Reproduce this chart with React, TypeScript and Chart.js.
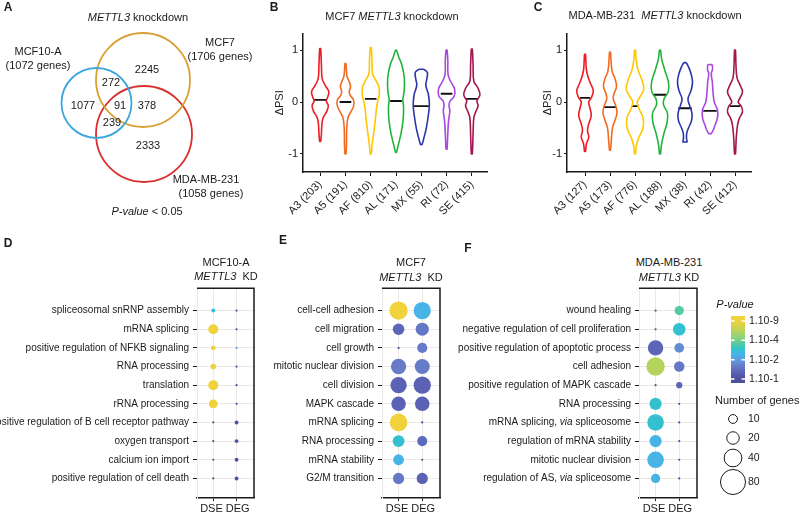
import React, { useEffect, useRef } from 'react';
import { Chart, registerables } from 'chart.js';

Chart.register(...registerables);

const FONT = '"Liberation Sans", Arial, Helvetica, sans-serif';
Chart.defaults.font.family = FONT;
Chart.defaults.color = '#1a1a1a';
const INK = '#1a1a1a';
const GRID = '#efe7e3';

// ---------------- A: Venn data ----------------
const vennNames = ['MCF10-A', 'MCF7', 'MDA-MB-231'];
const vennGeneTotals = [1072, 1706, 1058];
const vennRegionCounts = [2245, 272, 1077, 91, 378, 239, 2333];
// layout of the diagram (abstract diagram units)
const vennColors = ['#3ba7dd', '#d9a033', '#d8302f'];
const vennCx = [96.5, 143, 144];
const vennCy = [103, 80, 134];
const vennR = [35, 47, 48];
const vennRegionX = [147, 111, 83, 120, 147, 112, 148];
const vennRegionY = [70, 83, 106, 106, 106, 123, 146];
const vennNameX = [38, 220, 206];
const vennNameX2 = [38, 220, 211];
const vennNameY = [52, 43, 180];

// ---------------- B / C: violin data ----------------
const spliceTypes = ['A3', 'A5', 'AF', 'AL', 'MX', 'RI', 'SE'];
const mcf7Counts = [203, 191, 810, 171, 55, 72, 415];
const mdaCounts = [127, 173, 776, 188, 38, 42, 412];
const psiTicks = [-1, 0, 1];
const mcf7Medians = [0.04, 0.0, 0.06, 0.02, -0.08, 0.16, 0.06];
const mcf7MedianHalf = [0.25, 0.23, 0.23, 0.23, 0.3, 0.23, 0.23];
const mdaMedians = [0.08, -0.1, -0.08, 0.14, -0.12, -0.17, -0.08];
const mdaMedianHalf = [0.2, 0.25, 0.13, 0.27, 0.27, 0.27, 0.21];
// density profiles: [deltaPSI, half-width of the violin]
const mcf7Density: number[][][] = [
  [[-0.76, 0.02], [-0.6, 0.05], [-0.42, 0.07], [-0.3, 0.12], [-0.18, 0.26], [-0.07, 0.32], [0.02, 0.24], [0.1, 0.3], [0.2, 0.34], [0.32, 0.2], [0.45, 0.08], [0.7, 0.05], [1.03, 0.02]],
  [[-1.0, 0.02], [-0.8, 0.04], [-0.5, 0.05], [-0.3, 0.1], [-0.2, 0.2], [-0.08, 0.32], [0.04, 0.32], [0.12, 0.2], [0.2, 0.15], [0.3, 0.2], [0.4, 0.14], [0.5, 0.06], [0.74, 0.02]],
  [[-1.0, 0.02], [-0.8, 0.06], [-0.55, 0.13], [-0.35, 0.18], [-0.15, 0.22], [0.0, 0.27], [0.12, 0.33], [0.28, 0.33], [0.42, 0.2], [0.55, 0.07], [0.8, 0.05], [1.05, 0.02]],
  [[-0.97, 0.02], [-0.85, 0.08], [-0.6, 0.2], [-0.35, 0.28], [-0.1, 0.3], [0.05, 0.27], [0.2, 0.32], [0.45, 0.33], [0.7, 0.24], [0.88, 0.1], [1.0, 0.02]],
  [[-0.82, 0.03], [-0.7, 0.1], [-0.5, 0.2], [-0.25, 0.28], [-0.05, 0.32], [0.15, 0.28], [0.32, 0.18], [0.45, 0.22], [0.57, 0.24], [0.63, 0.1]],
  [[-0.91, 0.02], [-0.6, 0.05], [-0.36, 0.08], [-0.17, 0.13], [-0.07, 0.1], [0.02, 0.14], [0.11, 0.3], [0.25, 0.32], [0.4, 0.16], [0.53, 0.06], [0.8, 0.05], [1.0, 0.02]],
  [[-1.0, 0.02], [-0.6, 0.05], [-0.3, 0.08], [-0.17, 0.17], [-0.07, 0.25], [0.02, 0.2], [0.14, 0.32], [0.27, 0.24], [0.4, 0.08], [0.7, 0.05], [1.02, 0.02]],
];
const mdaDensity: number[][][] = [
  [[-0.95, 0.02], [-0.8, 0.06], [-0.68, 0.15], [-0.55, 0.1], [-0.42, 0.15], [-0.26, 0.25], [-0.12, 0.2], [0.0, 0.15], [0.09, 0.26], [0.22, 0.33], [0.38, 0.2], [0.52, 0.1], [0.65, 0.05], [0.92, 0.02]],
  [[-0.93, 0.02], [-0.7, 0.06], [-0.5, 0.1], [-0.35, 0.2], [-0.2, 0.28], [-0.06, 0.22], [0.06, 0.13], [0.16, 0.16], [0.3, 0.26], [0.45, 0.2], [0.6, 0.08], [0.96, 0.02]],
  [[-1.0, 0.02], [-0.85, 0.05], [-0.7, 0.14], [-0.5, 0.32], [-0.3, 0.32], [-0.13, 0.16], [0.0, 0.09], [0.1, 0.2], [0.25, 0.35], [0.42, 0.28], [0.62, 0.12], [0.85, 0.04], [1.0, 0.02]],
  [[-1.0, 0.02], [-0.82, 0.06], [-0.6, 0.16], [-0.4, 0.28], [-0.22, 0.3], [-0.05, 0.14], [0.06, 0.16], [0.2, 0.33], [0.38, 0.34], [0.6, 0.2], [0.82, 0.07], [1.0, 0.02]],
  [[-0.77, 0.08], [-0.7, 0.06], [-0.6, 0.07], [-0.5, 0.14], [-0.36, 0.26], [-0.22, 0.28], [-0.06, 0.18], [0.06, 0.12], [0.22, 0.24], [0.38, 0.3], [0.55, 0.24], [0.7, 0.12], [0.76, 0.04]],
  [[-0.61, 0.05], [-0.54, 0.13], [-0.45, 0.2], [-0.3, 0.3], [-0.15, 0.3], [0.0, 0.17], [0.2, 0.12], [0.4, 0.09], [0.55, 0.05], [0.63, 0.1], [0.72, 0.08]],
  [[-1.0, 0.02], [-0.7, 0.05], [-0.45, 0.1], [-0.32, 0.17], [-0.19, 0.3], [-0.08, 0.25], [0.0, 0.13], [0.08, 0.2], [0.2, 0.3], [0.33, 0.2], [0.47, 0.08], [0.7, 0.04], [1.0, 0.02]],
];
const violinColors = ['#ee1c25', '#f36a21', '#fdc800', '#22b43c', '#2a36a8', '#a948e0', '#a3174f'];

// ---------------- D / E / F: GO bubble data ----------------
const columnLabels = ['DSE', 'DEG'];
const termsD = [
  'spliceosomal snRNP assembly', 'mRNA splicing', 'positive regulation of NFKB signaling', 'RNA processing',
  'translation', 'rRNA processing', 'positive regulation of B cell receptor pathway', 'oxygen transport',
  'calcium ion import', 'positive regulation of cell death',
];
const dseGenesD = [2, 13, 3, 4, 13, 10, 0, 0, 0, 0];
const dsePD = [1e-3, 1e-9, 1e-9, 1e-9, 1e-9, 1e-9, 0.1, 0.1, 0.1, 0.1];
const degGenesD = [0, 0, 0, 0, 0, 0, 2, 2, 2, 2];
const degPD = [0.1, 0.1, 0.01, 0.1, 0.1, 0.1, 0.08, 0.08, 0.08, 0.08];

const termsE = [
  'cell-cell adhesion', 'cell migration', 'cell growth', 'mitotic nuclear division', 'cell division',
  'MAPK cascade', 'mRNA splicing', 'RNA processing', 'mRNA stability', 'G2/M transition',
];
const dseGenesE = [43, 17, 0, 30, 34, 27, 40, 18, 15, 16];
const dsePE = [1e-9, 0.04, 0.1, 0.022, 0.044, 0.044, 1e-9, 1e-3, 3e-3, 0.025];
const degGenesE = [38, 22, 13, 29, 38, 27, 0, 13, 0, 16];
const degPE = [3e-3, 0.025, 0.022, 0.022, 0.044, 0.044, 0.1, 0.035, 0.1, 0.044];

const termsF = [
  'wound healing', 'negative regulation of cell proliferation', 'positive regulation of apoptotic process',
  'cell adhesion', 'positive regulation of MAPK cascade', 'RNA processing', 'mRNA splicing, _via_ spliceosome',
  'regulation of mRNA stability', 'mitotic nuclear division', 'regulation of AS, _via_ spliceosome',
];
const dseGenesF = [0, 0, 30, 43, 0, 19, 35, 19, 35, 11];
const dsePF = [0.1, 0.1, 0.04, 5e-7, 0.1, 1e-3, 1e-3, 3e-3, 3e-3, 3e-3];
const degGenesF = [11, 20, 12, 14, 5, 0, 0, 0, 0, 0];
const degPF = [2.5e-4, 1e-3, 0.015, 0.025, 0.04, 0.1, 0.1, 0.1, 0.1, 0.1];

// legend
const pLegendLabels = ['1.10-9', '1.10-4', '1.10-2', '1.10-1'];
const pLegendExps = [9, 4, 2, 1];
const sizeLegendGenes = [10, 20, 40, 80];

// ---------------- helpers ----------------
const gradStops: [number, string][] = [
  [0, '#4e4f9e'], [0.12, '#5b62b6'], [0.24, '#6882cc'], [0.34, '#5b9fdf'], [0.43, '#45b5e8'],
  [0.52, '#2ec3cb'], [0.62, '#5ccb9d'], [0.72, '#8fd27a'], [0.84, '#bcd458'], [1, '#f0d23c'],
];
function hexToRgb(h: string) {
  const n = parseInt(h.slice(1), 16);
  return [(n >> 16) & 255, (n >> 8) & 255, n & 255];
}
function colorAt(t: number) {
  t = Math.max(0, Math.min(1, t));
  for (let i = 1; i < gradStops.length; i++) {
    const [t1, c1] = gradStops[i];
    const [t0, c0] = gradStops[i - 1];
    if (t <= t1) {
      const f = (t - t0) / (t1 - t0);
      const a = hexToRgb(c0), b = hexToRgb(c1);
      return `rgb(${a.map((v, k) => Math.round(v + (b[k] - v) * f)).join(',')})`;
    }
  }
  return gradStops[gradStops.length - 1][1];
}
// -log10(p) -> position on the colour bar (labels are evenly spaced)
function tForExp(L: number) {
  const e = pLegendExps.slice().reverse(); // 1,2,4,9
  if (L <= e[0]) return 0;
  for (let i = 1; i < e.length; i++) {
    if (L <= e[i]) return (i - 1 + (L - e[i - 1]) / (e[i] - e[i - 1])) / (e.length - 1);
  }
  return 1;
}
function pColor(p: number) {
  return colorAt(tForExp(-Math.log10(p)));
}
function radiusFor(n: number) {
  return n > 0 ? 1.4 * Math.sqrt(n) : 1.1;
}
function parseRich(s: string) {
  return s.split('_').map((t, i) => ({ t, it: i % 2 === 1 })).filter((s) => s.t.length > 0);
}
function drawRich(ctx: CanvasRenderingContext2D, segs: { t: string; it: boolean }[], x: number, y: number, size: number, align: string, color: string) {
  const f = (it: boolean) => `${it ? 'italic ' : ''}${size}px ${FONT}`;
  let w = 0;
  for (const s of segs) { ctx.font = f(s.it); w += ctx.measureText(s.t).width; }
  let sx = align === 'center' ? x - w / 2 : align === 'right' ? x - w : x;
  ctx.textAlign = 'left';
  ctx.textBaseline = 'middle';
  ctx.fillStyle = color;
  for (const s of segs) { ctx.font = f(s.it); ctx.fillText(s.t, sx, y); sx += ctx.measureText(s.t).width; }
}

// ---------------- plugins ----------------
const vennText = {
  id: 'vennText',
  afterDatasetsDraw(chart: any) {
    const { ctx } = chart;
    const sx = chart.scales.x, sy = chart.scales.y;
    ctx.save();
    ctx.fillStyle = INK;
    ctx.font = `11px ${FONT}`;
    ctx.textAlign = 'center';
    ctx.textBaseline = 'middle';
    vennRegionCounts.forEach((c, i) => ctx.fillText(String(c), sx.getPixelForValue(vennRegionX[i]), sy.getPixelForValue(vennRegionY[i])));
    vennNames.forEach((n, i) => {
      ctx.font = `11px ${FONT}`;
      ctx.textAlign = 'center';
      ctx.fillStyle = INK;
      ctx.fillText(n, sx.getPixelForValue(vennNameX[i]), sy.getPixelForValue(vennNameY[i]));
      ctx.fillText(`(${vennGeneTotals[i]} genes)`, sx.getPixelForValue(vennNameX2[i]), sy.getPixelForValue(vennNameY[i] + 13.5));
    });
    drawRich(ctx, parseRich('_P-value_ < 0.05'), sx.getPixelForValue(147), sy.getPixelForValue(212), 11, 'center', INK);
    ctx.restore();
  },
};

const frame = {
  id: 'frame',
  afterDraw(chart: any) {
    const { ctx, chartArea: a } = chart;
    ctx.save();
    ctx.strokeStyle = INK;
    ctx.lineWidth = 1.5;
    ctx.beginPath();
    ctx.moveTo(a.left, a.top);
    ctx.lineTo(a.right, a.top);
    ctx.lineTo(a.right, a.bottom);
    ctx.stroke();
    const xs = chart.scales.x;
    const mid = (xs.getPixelForValue(1) + xs.getPixelForValue(2)) / 2;
    drawRich(ctx, [{ t: columnLabels.join(' '), it: false }], mid, a.bottom + 10.5, 11, 'center', INK);
    ctx.restore();
  },
};

const termLabels = {
  id: 'termLabels',
  afterDraw(chart: any, _args: any, opts: any) {
    const { ctx, chartArea } = chart;
    const ys = chart.scales.y;
    ctx.save();
    opts.terms.forEach((t: string, i: number) =>
      drawRich(ctx, parseRich(t), chartArea.left - opts.gap, ys.getPixelForValue(i), 10, 'right', INK));
    ctx.restore();
  },
};

const legendDraw = {
  id: 'legendDraw',
  afterDraw(chart: any) {
    const { ctx } = chart;
    ctx.save();
    drawRich(ctx, [{ t: 'P-value', it: true }], 35, 13, 11, 'center', INK);
    const top = 24, bot = 91, x0 = 31, w = 14, yHi = 29, yLo = 87;
    const g = ctx.createLinearGradient(0, top, 0, bot);
    g.addColorStop(0, gradStops[gradStops.length - 1][1]);
    gradStops.slice().reverse().forEach(([t, c]) => {
      const y = yLo - t * (yLo - yHi);
      g.addColorStop((y - top) / (bot - top), c);
    });
    g.addColorStop(1, gradStops[0][1]);
    ctx.fillStyle = g;
    ctx.fillRect(x0, top, w, bot - top);
    ctx.strokeStyle = '#ffffff';
    ctx.lineWidth = 1.5;
    pLegendExps.forEach((L, i) => {
      const y = yLo - tForExp(L) * (yLo - yHi);
      ctx.beginPath();
      ctx.strokeStyle = '#ffffff';
      ctx.moveTo(x0, y); ctx.lineTo(x0 + 3.5, y);
      ctx.moveTo(x0 + w - 3.5, y); ctx.lineTo(x0 + w, y);
      ctx.stroke();
      drawRich(ctx, [{ t: pLegendLabels[i], it: false }], 49, y, 10.5, 'left', INK);
    });
    drawRich(ctx, [{ t: 'Number of genes', it: false }], 15, 109, 11, 'left', INK);
    const cy = [127, 146, 166, 190];
    sizeLegendGenes.forEach((n, i) => {
      ctx.beginPath();
      ctx.strokeStyle = INK;
      ctx.lineWidth = 1;
      ctx.arc(33, cy[i], radiusFor(n), 0, Math.PI * 2);
      ctx.stroke();
      drawRich(ctx, [{ t: String(n), it: false }], 48, cy[i], 10.5, 'left', INK);
    });
    ctx.restore();
  },
};

// ---------------- chart configs ----------------
function vennConfig(): any {
  return {
    type: 'bubble',
    data: {
      datasets: vennNames.map((_, i) => ({
        data: [{ x: vennCx[i], y: vennCy[i], r: vennR[i] }],
        backgroundColor: 'rgba(0,0,0,0)',
        borderColor: vennColors[i],
        borderWidth: 1.8,
        clip: false,
      })),
    },
    options: {
      responsive: false, animation: false, events: [],
      layout: { padding: 0, autoPadding: false },
      plugins: { legend: { display: false }, tooltip: { enabled: false } },
      scales: {
        x: { type: 'linear', min: 0, max: 262, display: false },
        y: { type: 'linear', min: 0, max: 240, reverse: true, display: false },
      },
    },
    plugins: [vennText],
  };
}

function contour(center: number, prof: number[][]) {
  const pts: { x: number; y: number }[] = [];
  const lo = prof[0][0], hi = prof[prof.length - 1][0];
  pts.push({ x: center, y: lo });
  prof.forEach(([y, w]) => pts.push({ x: center + w, y }));
  pts.push({ x: center, y: hi });
  for (let i = prof.length - 1; i >= 0; i--) pts.push({ x: center - prof[i][1], y: prof[i][0] });
  pts.push({ x: center, y: lo });
  return pts;
}

function violinConfig(dens: number[][][], meds: number[], medHalf: number[], counts: number[], titlePad: number, xMin: number, xMax: number): any {
  const labels = spliceTypes.map((t, i) => `${t} (${counts[i]})`);
  const datasets: any[] = [];
  dens.forEach((prof, i) => datasets.push({
    data: contour(i, prof), showLine: true, borderColor: violinColors[i], borderWidth: 1.6,
    pointRadius: 0, tension: 0.4, fill: false,
  }));
  meds.forEach((m, i) => datasets.push({
    data: [{ x: i - medHalf[i], y: m }, { x: i + medHalf[i], y: m }], showLine: true,
    borderColor: '#111', borderWidth: 1.8, pointRadius: 0, tension: 0,
  }));
  return {
    type: 'scatter',
    data: { datasets },
    options: {
      responsive: false, animation: false, events: [],
      layout: { padding: { top: 7, right: 7, left: 0, bottom: 0 }, autoPadding: false },
      plugins: { legend: { display: false }, tooltip: { enabled: false } },
      scales: {
        x: {
          type: 'linear', min: xMin, max: xMax,
          afterBuildTicks: (a: any) => { a.ticks = spliceTypes.map((_, i) => ({ value: i })); },
          ticks: { autoSkip: false, minRotation: 45, maxRotation: 45, callback: (_v: any, idx: number) => labels[idx], color: INK, font: { size: 11 }, padding: 2 },
          grid: { drawOnChartArea: false, tickColor: INK, tickLength: 4 },
          border: { color: INK, width: 1.5 },
          afterFit: (s: any) => { s.height = 83; },
        },
        y: {
          type: 'linear', min: -1.35, max: 1.32,
          afterBuildTicks: (a: any) => { a.ticks = psiTicks.map((v) => ({ value: v })); },
          ticks: { callback: (v: any) => String(v), color: INK, font: { size: 11 }, padding: 2 },
          grid: { drawOnChartArea: false, tickColor: INK, tickLength: 3 },
          border: { color: INK, width: 1.5 },
          title: { display: true, text: 'ΔPSI', color: INK, font: { size: 11 }, padding: { top: titlePad, bottom: 0 } },
          afterFit: (s: any) => { s.width = 35; },
        },
      },
    },
  };
}

function bubbleConfig(terms: string[], dseN: number[], dseP: number[], degN: number[], degP: number[], axisW: number): any {
  const ds = (ns: number[], ps: number[], col: number) => ({
    data: ns.map((n, i) => ({ x: col, y: i, r: radiusFor(n), p: ps[i] })),
    backgroundColor: (c: any) => pColor(c.raw ? c.raw.p : 1),
    borderWidth: 0,
  });
  return {
    type: 'bubble',
    data: { datasets: [ds(dseN, dseP, 1), ds(degN, degP, 2)] },
    options: {
      responsive: false, animation: false, events: [],
      layout: { padding: { top: 5, right: 4, left: 0, bottom: 0 }, autoPadding: false },
      plugins: { legend: { display: false }, tooltip: { enabled: false }, termLabels: { terms, gap: 8 } },
      scales: {
        x: {
          type: 'linear', min: 0.3, max: 2.75,
          afterBuildTicks: (a: any) => { a.ticks = columnLabels.map((_, i) => ({ value: i + 1 })); },
          ticks: { callback: () => '', color: 'rgba(0,0,0,0)', padding: 1, maxRotation: 0 },
          grid: { color: GRID, tickColor: INK, tickLength: 3 },
          border: { color: INK, width: 1.5 },
          afterFit: (s: any) => { s.height = 15; },
        },
        y: {
          type: 'linear', reverse: true, min: -1.2, max: 10.05,
          afterBuildTicks: (a: any) => { a.ticks = terms.map((_, i) => ({ value: i })); },
          ticks: { color: 'rgba(0,0,0,0)', callback: () => '' },
          grid: { color: GRID, tickColor: INK, tickLength: 4 },
          border: { color: GRID, width: 1 },
          afterFit: (s: any) => { s.width = axisW; },
        },
      },
    },
    plugins: [frame, termLabels],
  };
}

function legendConfig(): any {
  return {
    type: 'scatter',
    data: { datasets: [] },
    options: {
      responsive: false, animation: false, events: [],
      plugins: { legend: { display: false }, tooltip: { enabled: false } },
      scales: { x: { display: false }, y: { display: false } },
    },
    plugins: [legendDraw],
  };
}

// ---------------- components ----------------
function ChartBox({ x, y, w, h, make }: { x: number; y: number; w: number; h: number; make: () => any }) {
  const ref = useRef<HTMLCanvasElement | null>(null);
  useEffect(() => {
    if (!ref.current) return;
    const chart = new Chart(ref.current, make());
    return () => chart.destroy();
  }, []);
  return (
    <canvas ref={ref} width={w} height={h}
      style={{ position: 'absolute', left: x, top: y, width: w, height: h }} />
  );
}

function T({ x, y, size = 11, bold = false, align = 'center', children }: any) {
  const tx = align === 'center' ? '-50%' : align === 'right' ? '-100%' : '0';
  return (
    <div style={{
      position: 'absolute', left: x, top: y, transform: `translate(${tx}, -50%)`,
      fontSize: size, fontWeight: bold ? 700 : 400, whiteSpace: 'pre', lineHeight: 1, color: INK,
    }}>{children}</div>
  );
}

export default function App() {
  return (
    <div style={{ position: 'absolute', left: 0, top: 0, width: 800, height: 513, background: '#fff', overflow: 'hidden', fontFamily: FONT }}>
      <ChartBox x={0} y={0} w={262} h={240} make={vennConfig} />
      <ChartBox x={268} y={25} w={226} h={230} make={() => violinConfig(mcf7Density, mcf7Medians, mcf7MedianHalf, mcf7Counts, 5, -0.68, 6.6)} />
      <ChartBox x={532} y={25} w={226} h={230} make={() => violinConfig(mdaDensity, mdaMedians, mdaMedianHalf, mdaCounts, 9, -0.72, 6.64)} />
      <ChartBox x={0} y={278} w={258} h={235} make={() => bubbleConfig(termsD, dseGenesD, dsePD, degGenesD, degPD, 197)} />
      <ChartBox x={258} y={278} w={186} h={235} make={() => bubbleConfig(termsE, dseGenesE, dsePE, degGenesE, degPE, 124)} />
      <ChartBox x={445} y={278} w={256} h={235} make={() => bubbleConfig(termsF, dseGenesF, dsePF, degGenesF, degPF, 194)} />
      <ChartBox x={700} y={292} w={100} h={221} make={legendConfig} />

      <T x={8} y={7} size={12} bold>A</T>
      <T x={274} y={7} size={12} bold>B</T>
      <T x={538} y={7} size={12} bold>C</T>
      <T x={8} y={243} size={12} bold>D</T>
      <T x={283} y={240} size={12} bold>E</T>
      <T x={468} y={248} size={12} bold>F</T>

      <T x={138} y={17}><i>METTL3</i> knockdown</T>
      <T x={392} y={16}>MCF7 <i>METTL3</i> knockdown</T>
      <T x={655} y={15}>MDA-MB-231  <i>METTL3</i> knockdown</T>

      <T x={226} y={262}>MCF10-A</T>
      <T x={226} y={276}><i>METTL3</i>  KD</T>
      <T x={411} y={262}>MCF7</T>
      <T x={411} y={277}><i>METTL3</i>  KD</T>
      <T x={669} y={262}>MDA-MB-231</T>
      <T x={669} y={277}><i>METTL3</i> KD</T>
    </div>
  );
}
